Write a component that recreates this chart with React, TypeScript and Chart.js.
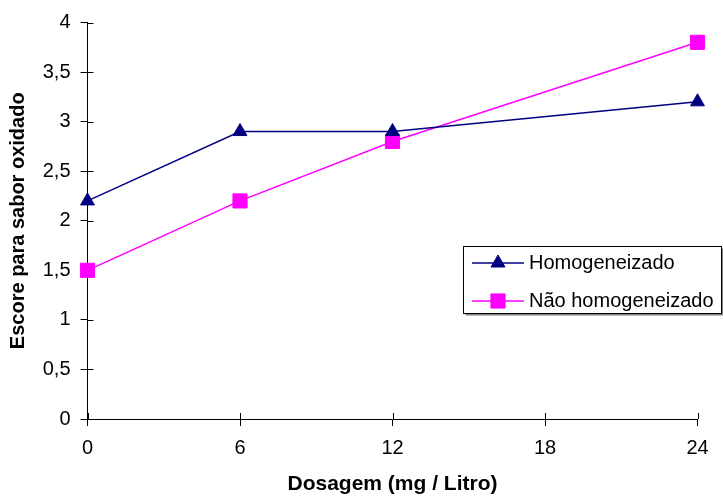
import React, { useEffect, useRef } from "react";
import { Chart, registerables } from "chart.js";
import { drawPoint } from "chart.js/helpers";

Chart.register(...registerables);

// Dose levels (mg / Litro) and the oxidised-flavour scores for each milk type
const doses = [0, 6, 12, 24];
const homogeneizado = [2.2, 2.9, 2.9, 3.2];
const naoHomogeneizado = [1.5, 2.2, 2.8, 3.8];
const seriesNames = ["Homogeneizado", "Não homogeneizado"];
const xTickValues = [0, 6, 12, 18, 24];

const FONT = "'Liberation Sans', Arial, sans-serif";
const NAVY = "#000080";
const MAGENTA = "#FF00FF";

// Short inner halves of the tick marks, so each tick crosses its axis line
const crossTicks = {
  id: "crossTicks",
  beforeDatasetsDraw(chart: any) {
    const { ctx, chartArea, scales } = chart;
    const x = scales.x;
    const y = scales.y;
    ctx.save();
    ctx.strokeStyle = "#000";
    ctx.lineWidth = 1;
    ctx.beginPath();
    y.ticks.forEach((t: any) => {
      const py = Math.round(y.getPixelForValue(t.value)) + 0.5;
      ctx.moveTo(chartArea.left, py);
      ctx.lineTo(chartArea.left + 6, py);
    });
    x.ticks.forEach((t: any) => {
      const px = Math.round(x.getPixelForValue(t.value)) + 0.5;
      ctx.moveTo(px, chartArea.bottom);
      ctx.lineTo(px, chartArea.bottom - 6);
    });
    ctx.stroke();
    ctx.restore();
  },
};

// Framed legend with a drop shadow, placed at the right of the plot
const boxLegend = {
  id: "boxLegend",
  afterDraw(chart: any) {
    const { ctx } = chart;
    const bx = 463.5;
    const by = 246.5;
    const bw = 258;
    const bh = 67;
    ctx.save();
    ctx.fillStyle = "#808080";
    ctx.fillRect(bx + 2, by + 2, bw, bh);
    ctx.fillStyle = "#fff";
    ctx.fillRect(bx, by, bw, bh);
    ctx.strokeStyle = "#000";
    ctx.lineWidth = 1;
    ctx.strokeRect(bx, by, bw, bh);

    const rows = [263, 301];
    chart.data.datasets.forEach((ds: any, i: number) => {
      const cy = rows[i];
      ctx.strokeStyle = ds.borderColor;
      ctx.lineWidth = ds.borderWidth;
      ctx.beginPath();
      ctx.moveTo(472, cy);
      ctx.lineTo(524, cy);
      ctx.stroke();
      ctx.fillStyle = ds.pointBackgroundColor;
      ctx.strokeStyle = ds.pointBorderColor;
      ctx.lineWidth = 1;
      drawPoint(ctx, { pointStyle: ds.pointStyle, radius: ds.pointRadius, rotation: 0, borderWidth: 1 } as any, 498, cy);
      ctx.fillStyle = "#000";
      ctx.font = `20px ${FONT}`;
      ctx.textBaseline = "middle";
      ctx.textAlign = "left";
      ctx.fillText(ds.label, 529, cy);
    });
    ctx.restore();
  },
};

export default function App() {
  const ref = useRef<HTMLCanvasElement | null>(null);

  useEffect(() => {
    document.body.style.margin = "0";
    const canvas = ref.current;
    if (!canvas) return;
    const chart = new Chart(canvas, {
      type: "line",
      data: {
        datasets: [
          {
            label: seriesNames[0],
            data: doses.map((d, i) => ({ x: d, y: homogeneizado[i] })),
            borderColor: NAVY,
            backgroundColor: NAVY,
            borderWidth: 1.5,
            pointStyle: "triangle",
            pointRadius: 8,
            pointBackgroundColor: NAVY,
            pointBorderColor: NAVY,
            pointBorderWidth: 1,
            clip: false,
          },
          {
            label: seriesNames[1],
            data: doses.map((d, i) => ({ x: d, y: naoHomogeneizado[i] })),
            borderColor: MAGENTA,
            backgroundColor: MAGENTA,
            borderWidth: 1.5,
            pointStyle: "rect",
            pointRadius: 10,
            pointBackgroundColor: MAGENTA,
            pointBorderColor: MAGENTA,
            pointBorderWidth: 1,
            clip: false,
          },
        ],
      },
      options: {
        responsive: false,
        animation: false,
        devicePixelRatio: 1,
        layout: { padding: { top: 22.5, right: 25.5, bottom: 0, left: 0 } },
        plugins: { legend: { display: false }, tooltip: { enabled: false } },
        elements: { line: { tension: 0 } },
        scales: {
          x: {
            type: "linear",
            min: 0,
            max: 24,
            afterBuildTicks: (s: any) => {
              s.ticks = xTickValues.map((v) => ({ value: v }));
            },
            afterFit: (s: any) => {
              s.height = 78;
            },
            ticks: {
              color: "#000",
              font: { family: FONT, size: 20 },
              padding: 10,
              maxRotation: 0,
            },
            grid: {
              display: true,
              drawOnChartArea: false,
              drawTicks: true,
              tickLength: 7,
              color: "#000",
            },
            border: { display: true, color: "#000", width: 1 },
            title: {
              display: true,
              text: "Dosagem (mg / Litro)",
              color: "#000",
              font: { family: FONT, size: 21, weight: "bold" },
              padding: { top: 0, bottom: 0 },
            },
          },
          y: {
            type: "linear",
            min: 0,
            max: 4,
            afterFit: (s: any) => {
              s.width = 87.5;
            },
            ticks: {
              stepSize: 0.5,
              color: "#000",
              font: { family: FONT, size: 20 },
              padding: 10,
              callback: (v: any) => String(v).replace(".", ","),
            },
            grid: {
              display: true,
              drawOnChartArea: false,
              drawTicks: true,
              tickLength: 7,
              color: "#000",
            },
            border: { display: true, color: "#000", width: 1 },
            title: {
              display: true,
              text: "Escore para sabor oxidado",
              color: "#000",
              font: { family: FONT, size: 20, weight: "bold" },
              padding: { top: 6.5, bottom: 0 },
            },
          },
        },
      },
      plugins: [crossTicks, boxLegend],
    });
    return () => chart.destroy();
  }, []);

  return (
    <div style={{ width: 723, height: 497, background: "#fff" }}>
      <canvas ref={ref} width={723} height={497} />
    </div>
  );
}
